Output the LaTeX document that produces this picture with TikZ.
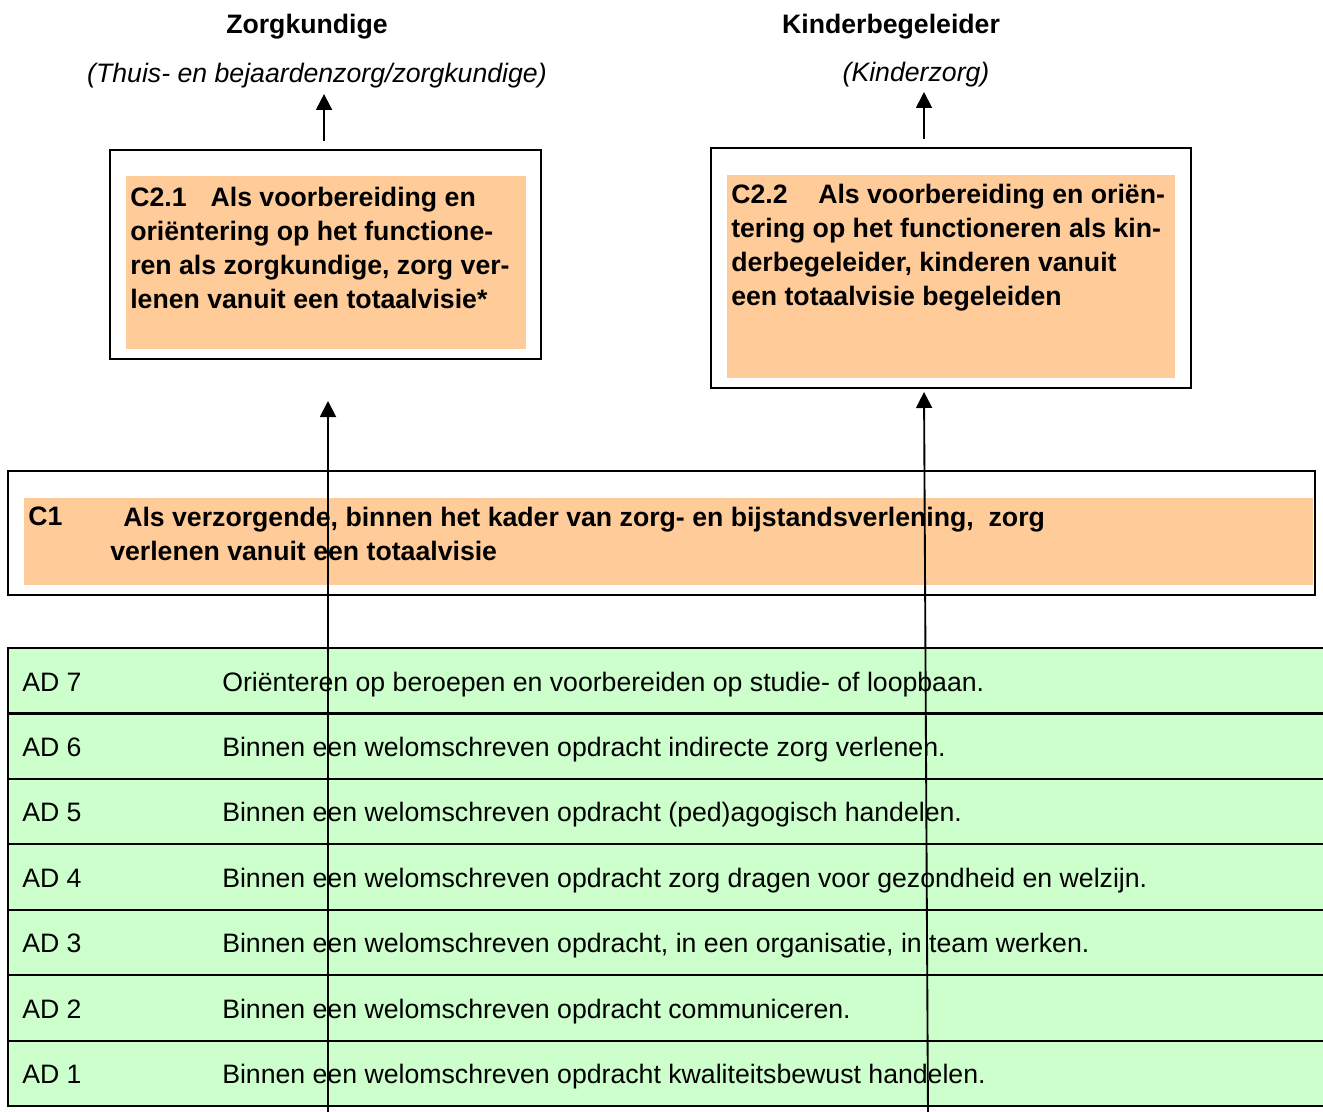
\documentclass[tikz,border=0pt]{standalone}
\usepackage{fontspec}
\setmainfont{Liberation Sans}
\usetikzlibrary{arrows.meta,fit}
\definecolor{peach}{HTML}{FFCC99}
\definecolor{mint}{HTML}{CCFFCC}
\begin{document}
\begin{tikzpicture}[x=0.75pt,y=-0.75pt,
  frame/.style={draw=black,line width=1.5pt,inner sep=0pt},
  fillbox/.style={fill=peach,inner sep=0pt},
  rowbox/.style={fill=mint,draw=black,line width=1.6pt,inner sep=0pt},
  boldtxt/.style={font=\fontsize{20}{25.6}\selectfont\bfseries,inner sep=0pt,align=left,anchor=north west},
  headtxt/.style={font=\fontsize{20}{24}\selectfont\bfseries,inner sep=0pt,anchor=base},
  subtxt/.style={font=\fontsize{20}{24}\selectfont\itshape,inner sep=0pt,anchor=base},
  celltxt/.style={font=\fontsize{20}{24}\selectfont,inner sep=0pt,anchor=base west},
  arr/.style={line width=1.4pt,-{Triangle[length=12pt,width=12pt]}}]
\useasboundingbox (0,0) rectangle (1323,1112);
\fill[white] (0,0) rectangle (1323,1112);

% headings
\node[headtxt] (h1) at (307,34) {Zorgkundige};
\node[subtxt] (s1) at (317,83) {(Thuis- en bejaardenzorg/zorgkundige)};
\node[headtxt] (h2) at (891,34) {Kinderbegeleider};
\node[subtxt] (s2) at (916,82) {(Kinderzorg)};

% C2.1 box
\node[frame,fit={(110,150) (541,359)}] (c21) {};
\node[fillbox,fit={(126,176) (526,349)}] (c21f) {};
\node[boldtxt] (c21t) at (130,187) {C2.1\hspace{18pt}Als voorbereiding en\\ori\"entering op het functione-\\ren als zorgkundige, zorg ver-\\lenen vanuit een totaalvisie*};

% C2.2 box
\node[frame,fit={(711,148) (1191,388)}] (c22) {};
\node[fillbox,fit={(727,175) (1175,378)}] (c22f) {};
\node[boldtxt] (c22t) at (731,183.5) {C2.2\hspace{23pt}Als voorbereiding en ori\"en-\\tering op het functioneren als kin-\\derbegeleider, kinderen vanuit\\een totaalvisie begeleiden};

% short arrows to headings
\draw[arr] ([xshift=-1.1pt,yshift=6pt]c21.north) -- ++(0,-47);
\draw[arr] ([xshift=-20.25pt,yshift=6pt]c22.north) -- ++(0,-47);

% C1 box
\node[frame,fit={(8,471) (1315,595)}] (c1) {};
\node[fillbox,fit={(24,498) (1313,585)}] (c1f) {};
\node[boldtxt] (c1l) at (28,507) {C1};
\node[boldtxt] (c1t) at (110,507) {\hspace*{9.75pt}Als verzorgende, binnen het kader van zorg- en bijstandsverlening,\ \ zorg\\verlenen vanuit een totaalvisie};

% table
\foreach \n/\t [count=\i from 0] in {
  7/{Ori\"enteren op beroepen en voorbereiden op studie- of loopbaan.},
  6/{Binnen een welomschreven opdracht indirecte zorg verlenen.},
  5/{Binnen een welomschreven opdracht (ped)agogisch handelen.},
  4/{Binnen een welomschreven opdracht zorg dragen voor gezondheid en welzijn.},
  3/{Binnen een welomschreven opdracht, in een organisatie, in team werken.},
  2/{Binnen een welomschreven opdracht communiceren.},
  1/{Binnen een welomschreven opdracht kwaliteitsbewust handelen.}} {
  \pgfmathsetmacro\rtop{648+65.43*\i}
  \pgfmathsetmacro\rbot{\rtop+65.43}
  \pgfmathsetmacro\rbase{\rtop+43}
  \node[rowbox,fit={(8,\rtop) (1335,\rbot)}] (row\n) {};
  \node[celltxt] (ad\n) at (22,\rbase) {AD \n};
  \node[celltxt] (adt\n) at (222,\rbase) {\t};
}

% long arrows
\coordinate (lb) at (328,1116);
\coordinate (rb) at (928,1116);
\draw[arr,shorten >=30.75pt] (lb) -- (lb |- c21.south);
\draw[arr,shorten >=2.25pt] (rb) -- ([xshift=-20.25pt]c22.south);
\end{tikzpicture}
\end{document}
